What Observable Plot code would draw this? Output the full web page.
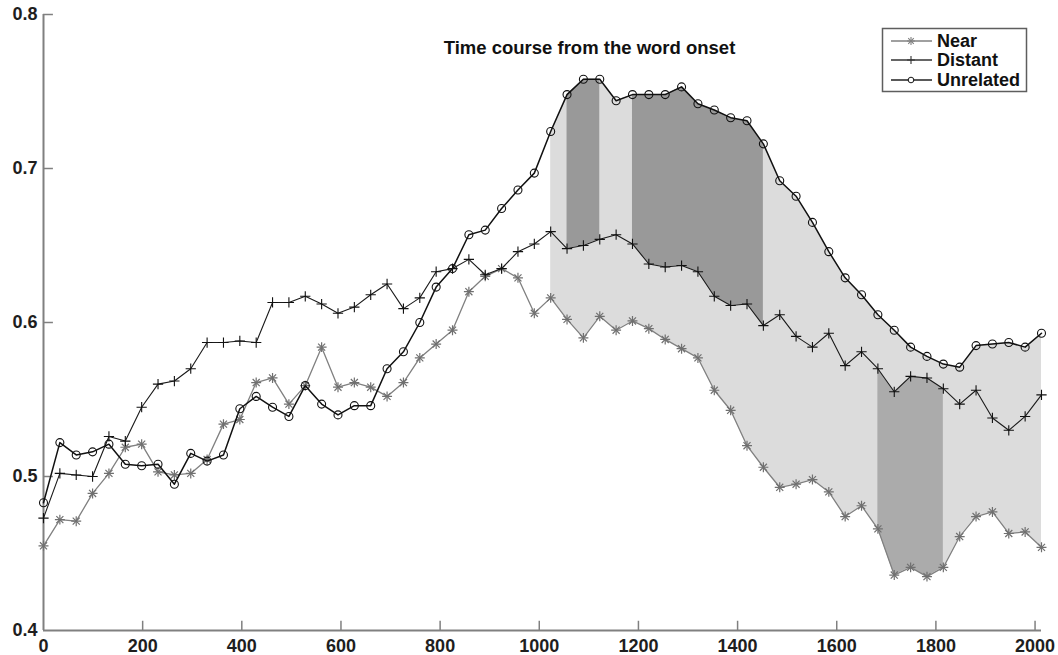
<!DOCTYPE html>
<html><head><meta charset="utf-8">
<script src="https://cdn.jsdelivr.net/npm/d3@7"></script>
<script src="https://cdn.jsdelivr.net/npm/@observablehq/plot@0.6"></script>
<style>body{margin:0;background:#fff;overflow:hidden}</style>
</head><body><div id="chart"></div>
<script>
const time = [0,33,66,99,132,165,198,231,264,297,330,363,396,429,462,495,528,561,594,627,660,693,726,759,792,825,858,891,924,957,990,1023,1056,1089,1122,1155,1188,1221,1254,1287,1320,1353,1386,1419,1452,1485,1518,1551,1584,1617,1650,1683,1716,1749,1782,1815,1848,1881,1914,1947,1980,2013];
const near = [0.455,0.472,0.471,0.489,0.502,0.519,0.521,0.503,0.501,0.502,0.511,0.534,0.537,0.561,0.564,0.547,0.559,0.584,0.558,0.561,0.558,0.552,0.561,0.577,0.586,0.595,0.620,0.630,0.635,0.629,0.606,0.616,0.602,0.590,0.604,0.595,0.601,0.596,0.589,0.583,0.577,0.556,0.543,0.520,0.506,0.493,0.495,0.498,0.490,0.474,0.481,0.466,0.436,0.441,0.435,0.441,0.461,0.474,0.477,0.463,0.464,0.454];
const distant = [0.473,0.502,0.501,0.500,0.526,0.523,0.545,0.560,0.562,0.570,0.587,0.587,0.588,0.587,0.613,0.613,0.617,0.612,0.606,0.610,0.618,0.625,0.609,0.616,0.633,0.635,0.641,0.631,0.635,0.646,0.651,0.659,0.648,0.650,0.654,0.657,0.651,0.638,0.636,0.637,0.633,0.617,0.611,0.612,0.598,0.605,0.591,0.584,0.593,0.572,0.581,0.570,0.555,0.565,0.564,0.557,0.547,0.556,0.538,0.530,0.539,0.553];
const unrelated = [0.483,0.522,0.514,0.516,0.521,0.508,0.507,0.508,0.495,0.515,0.510,0.514,0.544,0.552,0.545,0.539,0.559,0.547,0.540,0.546,0.546,0.570,0.581,0.600,0.623,0.635,0.657,0.660,0.674,0.686,0.697,0.724,0.748,0.758,0.758,0.744,0.748,0.748,0.748,0.753,0.742,0.738,0.733,0.731,0.716,0.692,0.682,0.665,0.646,0.629,0.618,0.605,0.595,0.584,0.578,0.573,0.571,0.585,0.586,0.587,0.584,0.593];
const xTicks = [0,200,400,600,800,1000,1200,1400,1600,1800,2000];
const yTicks = [0.4,0.5,0.6,0.7,0.8];
const seriesNames = ["Near","Distant","Unrelated"];
const titleText = "Time course from the word onset";
const lightSpan = [1023, 2013];
const darkSpansDU = [[1056,1122],[1188,1452]];
const darkSpansND = [[1683,1815]];

const rows = time.map((t,i)=>({t, near: near[i], distant: distant[i], unrelated: unrelated[i]}));
const inSpan = s => rows.filter(d => d.t >= s[0] && d.t <= s[1]);
const AX = "#808080";
const FONT = "'Liberation Sans', Arial, Helvetica, sans-serif";

const plot = Plot.plot({
  width: 1058, height: 655,
  marginLeft: 43, marginRight: 17, marginTop: 14, marginBottom: 25,
  style: {fontFamily: FONT, fontWeight: "bold", background: "#fff"},
  x: {domain: [0, 2013], label: null},
  y: {domain: [0.4, 0.8], label: null},
  marks: [
    Plot.areaY(inSpan(lightSpan), {x: "t", y1: "near", y2: "unrelated", fill: "#dcdcdc"}),
    ...darkSpansDU.map(s => Plot.areaY(inSpan(s), {x: "t", y1: "distant", y2: "unrelated", fill: "#999999"})),
    ...darkSpansND.map(s => Plot.areaY(inSpan(s), {x: "t", y1: "near", y2: "distant", fill: "#ababab"})),
    Plot.ruleX([0], {stroke: AX, strokeWidth: 2}),
    Plot.ruleY([0.4], {stroke: AX, strokeWidth: 2}),
    Plot.ruleY(yTicks.slice(1), {x1: 0, x2: 20, stroke: AX, strokeWidth: 1.5}),
    Plot.ruleX(xTicks.slice(1), {y1: 0.4, y2: 0.406, stroke: AX, strokeWidth: 1.5}),
    Plot.axisX(xTicks, {label: null, tickSize: 0, tickPadding: 9, fontSize: 18, fill: "#1e1e1e", tickFormat: d => String(d)}),
    Plot.axisY(yTicks, {label: null, tickSize: 0, tickPadding: 6, fontSize: 18, fill: "#1e1e1e", tickFormat: d => d.toFixed(1)}),
    Plot.line(rows, {x: "t", y: "near", stroke: "#808080", strokeWidth: 1.3}),
    Plot.dot(rows, {x: "t", y: "near", symbol: "plus", r: 3.3, stroke: "#707070", strokeWidth: 1.2}),
    Plot.dot(rows, {x: "t", y: "near", symbol: "times", r: 3.3, stroke: "#707070", strokeWidth: 1.2}),
    Plot.line(rows, {x: "t", y: "distant", stroke: "#1a1a1a", strokeWidth: 1.1}),
    Plot.dot(rows, {x: "t", y: "distant", symbol: "plus", r: 3.4, stroke: "#111", strokeWidth: 1.1}),
    Plot.line(rows, {x: "t", y: "unrelated", stroke: "#111", strokeWidth: 1.5}),
    Plot.dot(rows, {x: "t", y: "unrelated", symbol: "circle", r: 4, fill: "none", stroke: "#111", strokeWidth: 1.1}),
    Plot.text([titleText], {text: d => d, frameAnchor: "top", dx: 47, dy: 26, fontSize: 18.5, fill: "#111"})
  ]
});

// Legend inside plot area (top right)
const svg = d3.select(plot);
const g = svg.append("g").attr("font-family", FONT).attr("font-weight", "bold").attr("font-size", 18).attr("text-anchor", "start");
g.append("rect").attr("x", 882.5).attr("y", 28.5).attr("width", 144).attr("height", 63)
  .attr("fill", "#fff").attr("stroke", "#5e5e5e").attr("stroke-width", 1.5);
const legendRows = [
  {name: seriesNames[0], y: 41, stroke: "#808080", syms: [d3.symbolPlus, d3.symbolTimes], size: 22},
  {name: seriesNames[1], y: 60, stroke: "#333", syms: [d3.symbolPlus], size: 22},
  {name: seriesNames[2], y: 80, stroke: "#222", syms: [d3.symbolCircle], size: 24}
];
legendRows.forEach(r => {
  g.append("line").attr("x1", 891).attr("x2", 932).attr("y1", r.y).attr("y2", r.y)
    .attr("stroke", r.stroke).attr("stroke-width", 1.3);
  r.syms.forEach(s => g.append("path").attr("d", d3.symbol(s, r.size)())
    .attr("transform", `translate(911,${r.y})`).attr("fill", s === d3.symbolCircle ? "#fff" : "none")
    .attr("stroke", r.stroke).attr("stroke-width", 1.1));
  g.append("text").attr("x", 937).attr("y", r.y).attr("dy", "0.36em").attr("text-anchor", "start").attr("fill", "#111").text(r.name);
});

document.getElementById("chart").appendChild(plot);
</script>
</body></html>
